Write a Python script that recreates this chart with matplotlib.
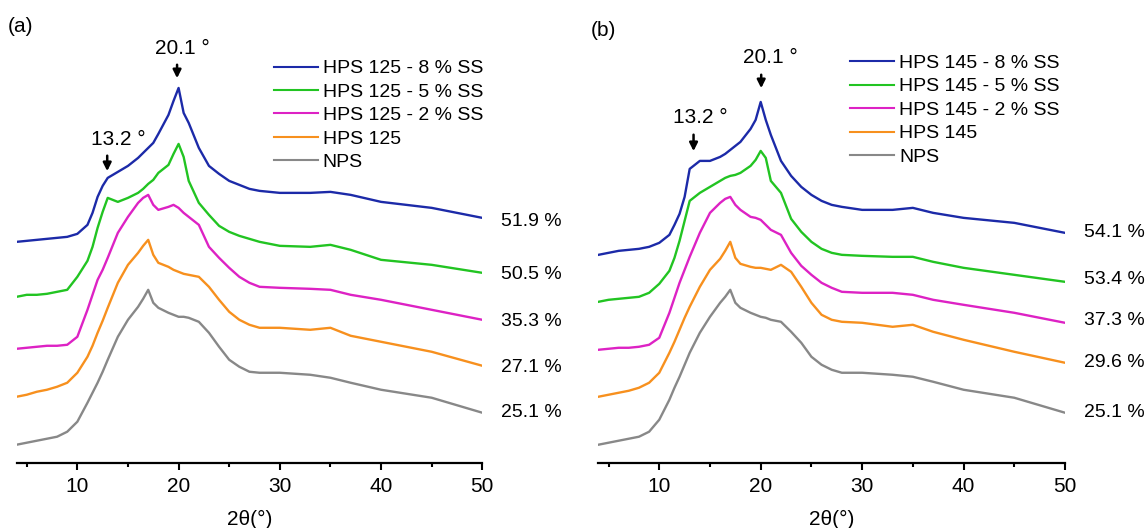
import matplotlib
matplotlib.use('Agg')
import matplotlib.pyplot as plt
from matplotlib.ticker import MultipleLocator

plt.rcParams['font.family'] = ['Liberation Sans', 'DejaVu Sans']

# 2theta grid (deg) shared by all patterns, intensities in arbitrary units (stacked)
two_theta = [4, 5, 6, 7, 8, 9, 10, 11, 11.5, 12, 12.5, 13, 14, 15, 16, 16.5, 17, 17.5, 18,
             19, 19.5, 20, 20.5, 21, 22, 23, 24, 25, 26, 27, 28, 30, 33, 35, 37, 40, 45, 50]

# panel (a)
a_names = ['HPS 125 - 8 % SS', 'HPS 125 - 5 % SS', 'HPS 125 - 2 % SS', 'HPS 125', 'NPS']
a_8ss = [221, 222, 223, 224, 225, 226, 229, 238, 250, 266, 277, 285, 291, 297, 305, 310, 315, 320, 329,
         348, 362, 375, 350, 340, 315, 297, 289, 282, 278, 274, 272, 270, 270, 271, 268, 261, 255, 245]
a_5ss = [166, 168, 168, 169, 171, 173, 186, 202, 216, 235, 251, 265, 261, 265, 270, 274, 279, 283, 290,
         298, 309, 319, 306, 282, 260, 248, 237, 231, 227, 224, 221, 217, 216, 218, 213, 203, 198, 190]
a_2ss = [114, 115, 116, 117, 117, 118, 126, 153, 168, 183, 193, 205, 230, 246, 260, 265, 268, 258, 253,
         256, 258, 255, 250, 246, 238, 216, 205, 195, 186, 180, 176, 175, 174, 173, 168, 163, 153, 143]
a_hps = [66, 68, 71, 73, 76, 80, 90, 106, 117, 130, 142, 155, 180, 198, 210, 217, 223, 208, 200,
         196, 193, 191, 189, 188, 186, 176, 163, 151, 143, 138, 135, 135, 133, 135, 127, 121, 111, 97]
a_nps = [18, 20, 22, 24, 26, 31, 41, 60, 70, 80, 91, 103, 126, 143, 156, 164, 173, 160, 155,
         150, 148, 146, 146, 145, 141, 130, 116, 103, 96, 91, 90, 90, 88, 85, 80, 73, 65, 50]
a_cryst = ['51.9 %', '50.5 %', '35.3 %', '27.1 %', '25.1 %']
a_cryst_y = [241, 188, 141, 95, 50]

# panel (b)
b_names = ['HPS 145 - 8 % SS', 'HPS 145 - 5 % SS', 'HPS 145 - 2 % SS', 'HPS 145', 'NPS']
b_8ss = [208, 210, 212, 213, 214, 216, 220, 228, 238, 249, 266, 294, 302, 302, 306, 309, 313, 317, 321,
         334, 343, 361, 343, 328, 302, 287, 276, 268, 262, 258, 256, 253, 253, 255, 250, 245, 240, 230]
b_5ss = [161, 163, 164, 165, 166, 170, 179, 192, 205, 222, 242, 262, 270, 276, 282, 285, 287, 288, 290,
         297, 303, 312, 305, 282, 270, 244, 231, 221, 214, 210, 208, 207, 206, 206, 201, 195, 188, 181]
b_2ss = [113, 114, 115, 115, 116, 118, 125, 150, 165, 180, 193, 206, 230, 250, 260, 264, 266, 258, 253,
         246, 245, 243, 238, 233, 228, 210, 197, 188, 180, 175, 171, 170, 170, 168, 163, 158, 150, 140]
b_hps = [66, 68, 70, 72, 75, 80, 90, 110, 121, 133, 145, 156, 176, 193, 204, 212, 221, 205, 199,
         196, 195, 195, 194, 193, 198, 191, 176, 160, 148, 143, 141, 140, 136, 138, 131, 123, 111, 100]
b_nps = [18, 20, 22, 24, 26, 31, 43, 63, 75, 86, 98, 110, 130, 146, 160, 166, 173, 160, 155,
         150, 148, 146, 145, 143, 141, 131, 120, 106, 98, 93, 90, 90, 88, 86, 81, 73, 65, 50]
b_cryst = ['54.1 %', '53.4 %', '37.3 %', '29.6 %', '25.1 %']
b_cryst_y = [230, 183, 142, 100, 50]

colors = ['#1c2aa8', '#22c422', '#dd22c4', '#f7901e', '#888888']


def draw_panel(ax, series, names, cryst, cryst_y, cryst_x, arrows, leg_anchor):
    for y, name, c in zip(series, names, colors):
        ax.plot(two_theta, y, color=c, lw=1.7, label=name)
    ax.set_xlim(4, 50)
    ax.set_ylim(0, 453)
    ax.xaxis.set_major_locator(MultipleLocator(10))
    ax.xaxis.set_minor_locator(MultipleLocator(5))
    ax.tick_params(axis='x', which='major', length=5, width=1.5, labelsize=15, pad=5)
    ax.tick_params(axis='x', which='minor', length=3, width=1.5)
    ax.set_yticks([])
    for s in ['left', 'right', 'top']:
        ax.spines[s].set_visible(False)
    ax.spines['bottom'].set_linewidth(1.6)
    ax.set_xlabel('2θ(°)', fontsize=15, labelpad=10)
    for t, yy in zip(cryst, cryst_y):
        ax.text(cryst_x, yy, t, fontsize=14, va='center', ha='left', clip_on=False)
    # peak markers
    for lab, xa, y0, y1, xt, yt in arrows:
        ax.annotate('', xy=(xa, y1), xytext=(xa, y0),
                    arrowprops=dict(arrowstyle='-|>', color='k', lw=1.8, mutation_scale=12))
        ax.text(xt, yt, lab, fontsize=15, ha='center', va='center')
    leg = ax.legend(loc='upper left', bbox_to_anchor=leg_anchor, frameon=False, fontsize=14,
                    handlelength=2.27, handletextpad=0.26, labelspacing=0.3,
                    borderpad=0, borderaxespad=0)
    for h in leg.get_lines():
        h.set_linewidth(1.5)


fig = plt.figure(figsize=(11.45, 5.28), dpi=100)
ax1 = fig.add_axes([16.6 / 1145, 65.3 / 528, 465.7 / 1145, 452.7 / 528])
ax2 = fig.add_axes([598.4 / 1145, 65.3 / 528, 466.6 / 1145, 452.7 / 528])

draw_panel(ax1, [a_8ss, a_5ss, a_2ss, a_hps, a_nps], a_names, a_cryst, a_cryst_y, 51.8,
           [('20.1 °', 19.85, 401, 382, 20.36, 414), ('13.2 °', 12.95, 310, 289, 14.0, 323)],
           (0.552, 0.89))
draw_panel(ax2, [b_8ss, b_5ss, b_2ss, b_hps, b_nps], b_names, b_cryst, b_cryst_y, 51.9,
           [('20.1 °', 20.05, 391, 372, 20.97, 405), ('13.2 °', 13.38, 331, 309, 14.0, 345)],
           (0.539, 0.902))

fig.text(8 / 1145, 1 - 27 / 528, '(a)', fontsize=15, va='center')
fig.text(591 / 1145, 1 - 30 / 528, '(b)', fontsize=15, va='center')

fig.savefig('out.png', dpi=100)
